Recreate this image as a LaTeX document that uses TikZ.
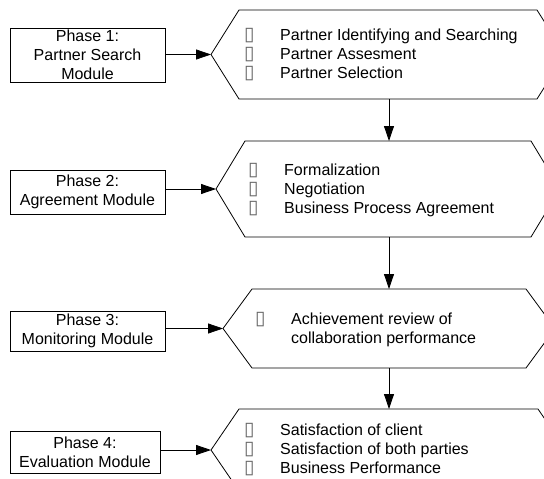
\documentclass[tikz,border=0pt]{standalone}
\usepackage{fontspec}
\setmainfont{Liberation Sans}
\newfontfamily\symfont{DejaVu Sans}
\usetikzlibrary{arrows.meta}
\newcommand{\bx}{{\symfont\fontsize{19}{19}\selectfont\color{black!60}▯}}
\newcommand{\bul}[1]{\makebox[#1][l]{\bx}}
\begin{document}
\begin{tikzpicture}[x=1pt,y=-1pt,
  every node/.style={font=\fontsize{16}{19}\selectfont},
  phasebox/.style={draw, line width=0.8pt, inner sep=0pt, align=center},
  hexline/.style={line width=0.8pt, line join=miter},
  conn/.style={line width=0.8pt, -{Triangle[length=15pt,width=10pt]}},
  hextext/.style={anchor=west, align=left, inner sep=0pt}]
\useasboundingbox (0,0) rectangle (544,479);
\clip (0,0) rectangle (544,479);

% hexagons
\draw[hexline] (239,10) coordinate (h1tl) -- (537,10) -- (565,54.5) -- (537,99) -- (239,99) -- (211,54.5) coordinate (h1l) -- cycle;
\coordinate (h1t) at (389,10);
\coordinate (h1b) at (389,99);

\draw[hexline] (245,141) -- (531,141) -- (560,189) -- (531,237) -- (245,237) -- (216,189) coordinate (h2l) -- cycle;
\coordinate (h2t) at (389,141);
\coordinate (h2b) at (389,237);

\draw[hexline] (252,289) -- (526,289) -- (555,328.5) -- (526,368) -- (252,368) -- (223,328.5) coordinate (h3l) -- cycle;
\coordinate (h3t) at (389,289);
\coordinate (h3b) at (389,368);

\draw[hexline] (239,409) -- (538,409) -- (566,450) -- (538,491) -- (239,491) -- (211,450) coordinate (h4l) -- cycle;
\coordinate (h4t) at (389,409);

% hexagon texts
\node[hextext] (t1) at (244,55) {\bul{36pt}Partner Identifying and Searching\\\bul{36pt}Partner Assesment\\\bul{36pt}Partner Selection};
\node[hextext] (t2) at (248,190) {\bul{36pt}Formalization\\\bul{36pt}Negotiation\\\bul{36pt}Business Process Agreement};
\node[hextext] (t3) at (255,330) {\bul{36pt}Achievement review of\\\hspace*{36pt}collaboration performance};
\node[hextext] (t4) at (244,450) {\bul{36pt}Satisfaction of client\\\bul{36pt}Satisfaction of both parties\\\bul{36pt}Business Performance};

% phase boxes
\node[phasebox, minimum width=155pt, minimum height=54pt] (p1) at (87.5,55) {Phase 1:\\Partner Search\\Module};
\node[phasebox, minimum width=155pt, minimum height=44pt] (p2) at (87.5,192) {Phase 2:\\Agreement Module};
\node[phasebox, minimum width=155pt, minimum height=40pt] (p3) at (87.5,331) {Phase 3:\\Monitoring Module};
\node[phasebox, minimum width=150pt, minimum height=42pt] (p4) at (85,452) {Phase 4:\\Evaluation Module};

% connectors
\draw[conn] (p1.east |- h1l) -- (h1l);
\draw[conn] (p2.east |- h2l) -- (h2l);
\draw[conn] (p3.east |- h3l) -- (h3l);
\draw[conn] (p4.east |- h4l) -- (h4l);
\draw[conn] (h1b) -- (h2t);
\draw[conn] (h2b) -- (h3t);
\draw[conn] (h3b) -- (h4t);
\end{tikzpicture}
\end{document}
